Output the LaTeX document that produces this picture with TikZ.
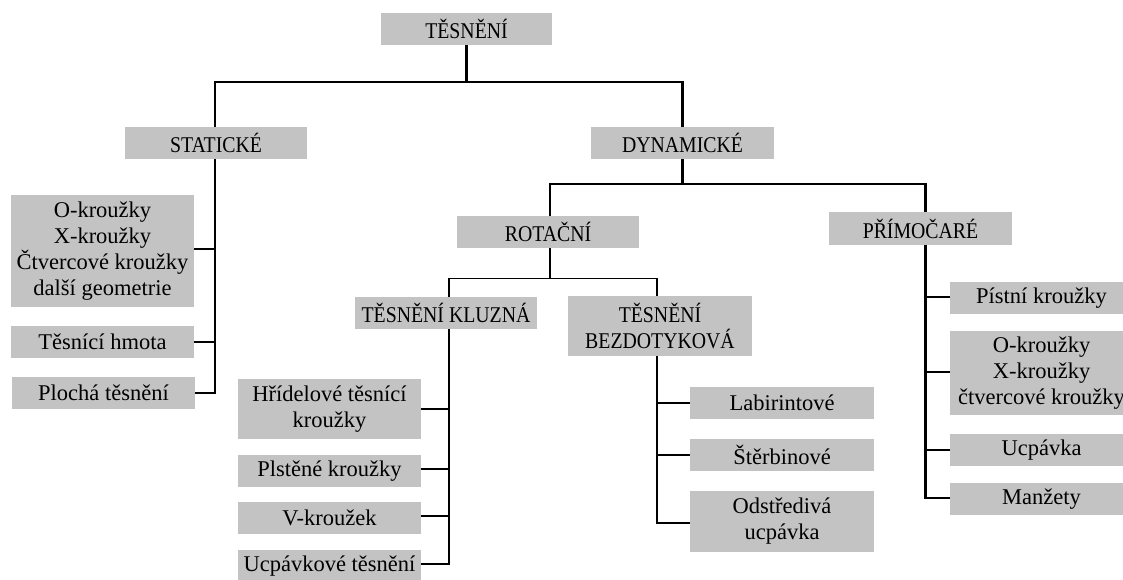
\documentclass[tikz,border=0pt]{standalone}
\usepackage{fontspec}
\setmainfont{Liberation Serif}
\newfontfamily\capfont[FakeStretch=0.88]{Liberation Serif}
\definecolor{boxgray}{RGB}{195,195,195}
\begin{document}
\begin{tikzpicture}[x=1pt,y=-1pt,
  box/.style={fill=boxgray, draw=none, inner sep=0pt, align=center,
    font=\fontsize{22.5}{26}\selectfont, text=black},
  capbox/.style={box, font=\capfont\fontsize{22.5}{26}\selectfont},
  thickline/.style={line width=2.2pt, draw=black},
  thinline/.style={line width=1.3pt, draw=black}]
\useasboundingbox (0,0) rectangle (1123,579);
% level 0
\node[capbox, minimum width=171, minimum height=32] (top) at (466.5,29) {TĚSNĚNÍ};
% level 1
\node[capbox, minimum width=182, minimum height=32] (stat) at (216,143) {STATICKÉ};
\node[capbox, minimum width=183, minimum height=32] (dyn) at (682.5,143) {DYNAMICKÉ};
% level 2
\node[capbox, minimum width=182, minimum height=32] (rot) at (548,232) {ROTAČNÍ};
\node[capbox, minimum width=183, minimum height=33] (prim) at (920.5,228.5) {PŘÍMOČARÉ};
% level 3
\node[capbox, minimum width=182, minimum height=32] (kluz) at (446,313) {TĚSNĚNÍ KLUZNÁ};
\node[capbox, minimum width=184, minimum height=60] (bez) at (660,326) {TĚSNĚNÍ\\BEZDOTYKOVÁ};
% static children
\node[box, minimum width=183, minimum height=112] (s1) at (102.5,251) {O-kroužky\\X-kroužky\\Čtvercové kroužky\\další geometrie};
\node[box, minimum width=183, minimum height=32] (s2) at (102.5,342) {Těsnící hmota};
\node[box, minimum width=183, minimum height=32] (s3) at (103.5,393) {Plochá těsnění};
% kluzna children
\node[box, minimum width=183, minimum height=60] (k1) at (329.5,409) {Hřídelové těsnící\\kroužky};
\node[box, minimum width=183, minimum height=32] (k2) at (329.5,471) {Plstěné kroužky};
\node[box, minimum width=183, minimum height=32] (k3) at (329.5,518) {V-kroužek};
\node[box, minimum width=183, minimum height=32] (k4) at (329.5,566) {Ucpávkové těsnění};
% bezdotykova children
\node[box, minimum width=184, minimum height=32] (b1) at (782,403) {Labirintové};
\node[box, minimum width=184, minimum height=32] (b2) at (782,455) {Štěrbinové};
\node[box, minimum width=184, minimum height=61] (b3) at (782,521.5) {Odstředivá\\ucpávka};
% primocare children
\node[box, minimum width=183, minimum height=32] (p1) at (1041.5,298) {Pístní kroužky};
\node[box, minimum width=183, minimum height=84] (p2) at (1041.5,373) {O-kroužky\\X-kroužky\\čtvercové kroužky};
\node[box, minimum width=183, minimum height=32] (p3) at (1041.5,450) {Ucpávka};
\node[box, minimum width=183, minimum height=32] (p4) at (1041.5,499) {Manžety};

% trunk attachment points
\coordinate (statS) at ([xshift=-1pt]stat.south);
\coordinate (statN) at ([xshift=-1pt]stat.north);
\coordinate (rotN) at ([xshift=2pt]rot.north);
\coordinate (rotS) at ([xshift=2pt]rot.south);
\coordinate (primN) at ([xshift=5pt]prim.north);
\coordinate (primS) at ([xshift=5pt]prim.south);
\coordinate (kluzN) at ([xshift=3pt]kluz.north);
\coordinate (kluzS) at ([xshift=3pt]kluz.south);
\coordinate (bezN) at ([xshift=-3pt]bez.north);
\coordinate (bezS) at ([xshift=-3pt]bez.south);

% connectors level 0 -> 1
\draw[thickline] (top.south) -- ++(0,37) -| (statN);
\draw[thickline] (top.south) -- ++(0,37) -| (dyn.north);
% dyn -> rot, prim
\draw[thickline] (dyn.south) -- ++(0,25) -| (rotN);
\draw[thickline] (dyn.south) -- ++(0,25) -| (primN);
% rot -> kluz, bez
\draw[thickline] (rotS) -- ++(0,30);
\draw[thinline] (rotS) ++(0,30) -| (kluzN);
\draw[thinline] (rotS) ++(0,30) -| (bezN);
% static trunk
\draw[thickline] (statS) |- (s3.east);
\draw[thickline] ([yshift=2pt]s1.east) -- ([yshift=2pt]s1.east -| statS);
\draw[thickline] (s2.east) -- (s2.east -| statS);
% kluzna trunk
\draw[thickline] (kluzS) |- ([yshift=2pt]k4.east);
\draw[thickline] (k1.east) -- (k1.east -| kluzS);
\draw[thickline] ([yshift=2pt]k2.east) -- ([yshift=2pt]k2.east -| kluzS);
\draw[thickline] ([yshift=2pt]k3.east) -- ([yshift=2pt]k3.east -| kluzS);
% bezdotykova trunk
\draw[thickline] (bezS) |- ([yshift=-1.5pt]b3.west);
\draw[thickline] (b1.west) -- (b1.west -| bezS);
\draw[thickline] (b2.west) -- (b2.west -| bezS);
% primocare trunk
\draw[thickline] (primS) |- ([yshift=1pt]p4.west);
\draw[thickline] ([yshift=1pt]p1.west) -- ([yshift=1pt]p1.west -| primS);
\draw[thickline] ([yshift=1pt]p2.west) -- ([yshift=1pt]p2.west -| primS);
\draw[thickline] (p3.west) -- (p3.west -| primS);
\end{tikzpicture}
\end{document}
